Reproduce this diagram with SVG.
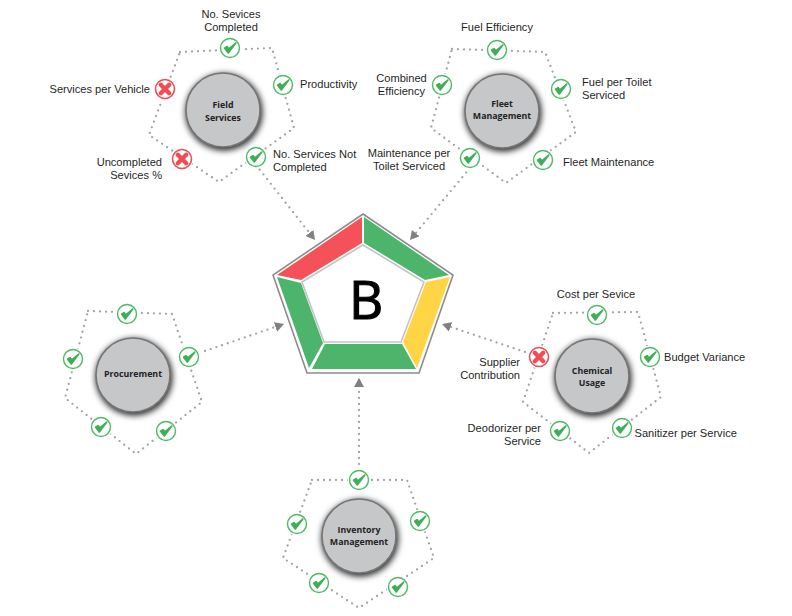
<svg xmlns="http://www.w3.org/2000/svg" width="792" height="616" viewBox="0 0 792 616">
<style>
.dot{fill:none;stroke:#a3a3a3;stroke-width:2.3;stroke-linecap:round;stroke-linejoin:round;stroke-dasharray:0 6}
.hub{fill:#c6c7c9;stroke:#757575;stroke-width:1.6}
.sh{fill:#000;fill-opacity:.85;filter:url(#blur)}
.lbl{font-family:"Liberation Sans",Arial,sans-serif;font-size:11.1px;fill:#1f1f1f}
.nm{font-family:"Open Sans","Noto Sans",sans-serif;font-size:8.8px;font-weight:700;fill:#222;text-anchor:middle}
.m{text-anchor:middle}.e{text-anchor:end}
</style>
<defs>
<filter id="blur" x="-30%" y="-30%" width="160%" height="160%"><feGaussianBlur stdDeviation="3.4"/></filter>
<marker id="arr" markerUnits="userSpaceOnUse" markerWidth="12" markerHeight="12" refX="9" refY="5" orient="auto"><path d="M0 0L9 5L0 10z" fill="#808080"/></marker>
<g id="ok"><circle r="11.5" fill="#fff"/><circle r="9.5" fill="#fff" stroke="#4cb963" stroke-width="1.4"/><path d="M-5.4 .2L-1.7 5L5.8 -5L-1.2 .8L-3 -1.4z" fill="#3fae57" stroke="#3fae57" stroke-width="1.6" stroke-linejoin="round"/></g>
<g id="no"><circle r="11.5" fill="#fff"/><circle r="9.5" fill="#fff" stroke="#f04c54" stroke-width="1.6"/><path d="M-4.2 -4.2L4.2 4.2M4.2 -4.2L-4.2 4.2" stroke="#f04c54" stroke-width="4.4" stroke-linecap="round"/></g>
</defs>
<rect width="792" height="616" fill="#fff"/>
<g id="connectors">
<path class="dot" marker-end="url(#arr)" d="M256 165L315 240"/>
<path class="dot" marker-end="url(#arr)" d="M470 168L410 240"/>
<path class="dot" marker-end="url(#arr)" d="M205 351L284 324"/>
<path class="dot" marker-end="url(#arr)" d="M525 352L442 324"/>
<path class="dot" marker-end="url(#arr)" d="M359 470L359 378"/>
</g>
<g id="score">
<path d="M363 214L453 275L419 373H307L273 275z" fill="#fff" stroke="#8c8c8c" stroke-width="1.6"/>
<path d="M362 217V243L301 280L277 275z" fill="#f45158"/>
<path d="M364 217L449 275L425 280L364 243z" fill="#4db56b"/>
<path d="M450 277L417 368L403 342L426 282z" fill="#ffd445"/>
<path d="M325 344H402L416 369H312z" fill="#4db56b"/>
<path d="M277 277L301 283L323 343L309 368z" fill="#4db56b"/>
<path d="M363 245L424 282L401 342H324L302 282z" fill="#fff" stroke="#c4c4c4" stroke-width="1.6"/>
<text x="366" y="319" class="m" font-family="'Open Sans','Noto Sans',sans-serif" font-size="53" fill="#000" stroke="#000" stroke-width="1.1">B</text>
</g>
<g id="field-services">
<path class="dot" d="M180 52L272 48L294 128L219 182L149 135z"/>
<circle class="sh" cx="224" cy="112" r="38.500"/><circle class="hub" cx="223" cy="110" r="37"/>
<text class="nm" x="223" y="108">Field</text><text class="nm" x="223" y="121">Services</text>
<use href="#ok" x="230" y="48"/><use href="#ok" x="283" y="85"/><use href="#ok" x="256" y="157"/><use href="#no" x="182" y="159"/><use href="#no" x="165" y="89"/>
<text class="lbl m" x="231" y="18">No. Sevices</text><text class="lbl m" x="231" y="31">Completed</text>
<text class="lbl" x="300" y="88">Productivity</text>
<text class="lbl" x="273" y="158">No. Services Not</text><text class="lbl" x="273" y="171">Completed</text>
<text class="lbl e" x="162" y="166">Uncompleted</text><text class="lbl e" x="162" y="179">Sevices %</text>
<text class="lbl e" x="150" y="93">Services per Vehicle</text>
</g>
<g id="fleet-management">
<path class="dot" d="M452 49L545 52L576 132L506 183L431 128z"/>
<circle class="sh" cx="503" cy="113" r="38.500"/><circle class="hub" cx="502" cy="111" r="37"/>
<text class="nm" x="502" y="107">Fleet</text><text class="nm" x="502" y="119">Management</text>
<use href="#ok" x="497" y="50"/><use href="#ok" x="561" y="89"/><use href="#ok" x="543" y="160"/><use href="#ok" x="470" y="158"/><use href="#ok" x="442" y="85"/>
<text class="lbl m" x="497" y="31">Fuel Efficiency</text>
<text class="lbl m" x="401.500" y="82">Combined</text><text class="lbl m" x="401.500" y="95">Efficiency</text>
<text class="lbl" x="582" y="86">Fuel per Toilet</text><text class="lbl" x="582" y="99">Serviced</text>
<text class="lbl" x="563" y="166">Fleet Maintenance</text>
<text class="lbl m" x="409" y="157">Maintenance per</text><text class="lbl m" x="409" y="170">Toilet Serviced</text>
</g>
<g id="procurement">
<path class="dot" d="M88 311L172 314L202 402L136 454L65 398z"/>
<circle class="sh" cx="134" cy="377" r="38.500"/><circle class="hub" cx="133" cy="375" r="37"/>
<text class="nm" x="133" y="377">Procurement</text>
<use href="#ok" x="127" y="314"/><use href="#ok" x="189" y="357"/><use href="#ok" x="166" y="431"/><use href="#ok" x="101" y="427"/><use href="#ok" x="73" y="359"/>
</g>
<g id="inventory-management">
<path class="dot" d="M312 480L407 480L434 558L359 608L283 558z"/>
<circle class="sh" cx="360" cy="538" r="38.500"/><circle class="hub" cx="359" cy="536" r="37"/>
<text class="nm" x="359" y="533">Inventory</text><text class="nm" x="359" y="545">Management</text>
<use href="#ok" x="359" y="480"/><use href="#ok" x="420" y="521"/><use href="#ok" x="398" y="587"/><use href="#ok" x="319" y="583"/><use href="#ok" x="297" y="524"/>
</g>
<g id="chemical-usage">
<path class="dot" d="M553 313L638 312L661 397L589 453L523 402z"/>
<circle class="sh" cx="593" cy="378" r="38.500"/><circle class="hub" cx="592" cy="376" r="37"/>
<text class="nm" x="592" y="374">Chemical</text><text class="nm" x="592" y="386">Usage</text>
<use href="#ok" x="597" y="315"/><use href="#ok" x="650" y="357"/><use href="#ok" x="622" y="428"/><use href="#ok" x="560" y="431"/><use href="#no" x="539" y="357"/>
<text class="lbl m" x="596" y="298">Cost per Sevice</text>
<text class="lbl" x="664" y="361">Budget Variance</text>
<text class="lbl" x="634.500" y="437">Sanitizer per Service</text>
<text class="lbl e" x="541" y="432">Deodorizer per</text><text class="lbl e" x="541" y="445">Service</text>
<text class="lbl e" x="520" y="366">Supplier</text><text class="lbl e" x="520" y="379">Contribution</text>
</g>
</svg>
